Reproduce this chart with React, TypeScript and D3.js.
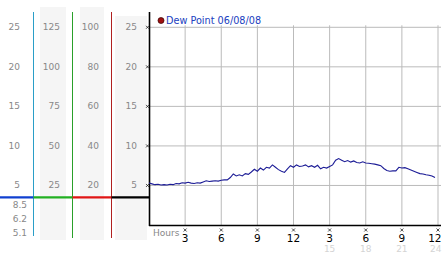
import React from "react";
import * as d3 from "d3";

const W = 442;
const H = 253;

// Dew point readings every 15 minutes (°), starting at hour 0
const dewPoint: number[] = [
  5.3, 5.2, 5.1, 5.15, 5.05, 5.1, 5.05, 5.15, 5.1, 5.25, 5.2, 5.35, 5.3, 5.4, 5.3, 5.25,
  5.35, 5.3, 5.45, 5.6, 5.5, 5.55, 5.6, 5.55, 5.65, 5.7, 5.7, 6.0, 6.45, 6.2, 6.35, 6.2,
  6.5, 6.4, 6.7, 7.05, 6.8, 7.2, 6.95, 7.3, 7.2, 7.6, 7.3, 7.0, 6.8, 6.65, 7.1, 7.5,
  7.3, 7.6, 7.4, 7.45, 7.6, 7.35, 7.5, 7.3, 7.55, 7.1, 7.3, 7.2, 7.4, 7.6, 8.2, 8.4,
  8.2, 8.0, 8.15, 7.95, 8.1, 7.9, 7.85, 8.0, 7.85, 7.8, 7.75, 7.7, 7.6, 7.5, 7.15, 6.9,
  6.8, 6.85, 6.85, 7.3, 7.2, 7.25, 7.1, 6.95, 6.8, 6.65, 6.5, 6.45, 6.35, 6.3, 6.2, 6.0,
];
const stepHours = 0.25;

const yTicks = [25, 20, 15, 10, 5];
const col1Labels = ["25", "20", "15", "10", "5"];
const col2Labels = ["125", "100", "75", "50", "25"];
const col3Labels = ["100", "80", "60", "40", "20"];
const col4Labels = ["25", "20", "15", "10", "5"];
const currentValues = ["8.5", "6.2", "5.1"];

const xTicks = [3, 6, 9, 12, 15, 18, 21, 24];
const xTickLabels = ["3", "6", "9", "12", "3", "6", "9", "12"];
const fadedTicks = [15, 18, 21, 24];
const fadedLabels = ["15", "18", "21", "24"];

const legendLabel = "Dew Point 06/08/08";

const FONT = "DejaVu Sans, Verdana, sans-serif";

function Cross({ x, y }: { x: number; y: number }) {
  return (
    <path
      d={`M${x - 1.5},${y - 1.5}L${x + 1.5},${y + 1.5}M${x + 1.5},${y - 1.5}L${x - 1.5},${y + 1.5}`}
      stroke="#222"
      strokeWidth={0.8}
      fill="none"
    />
  );
}

export default function App() {
  const x = d3.scaleLinear().domain([0, 24]).range([149, 438]);
  const y = d3.scaleLinear().domain([0, 25]).range([225, 27.3]);

  const line = d3
    .line<number>()
    .x((_, i) => x(i * stepHours))
    .y((d) => y(d));

  const markerY = y(3.5);
  const extraY = d3.scalePoint<string>().domain(currentValues).range([205, 233]);
  const lastTick = xTicks[xTicks.length - 1];

  return (
    <svg
      width={W}
      height={H}
      style={{ position: "absolute", left: 0, top: 0, background: "#fff" }}
      fontFamily={FONT}
    >
      {/* left gray bands */}
      <rect x={40} y={7} width={26} height={233} fill="#f5f5f5" />
      <rect x={80} y={7} width={24} height={233} fill="#f5f5f5" />
      <rect x={115} y={16} width={32} height={224} fill="#f5f5f5" />

      {/* colored vertical axes */}
      <line x1={33.5} x2={33.5} y1={12} y2={236} stroke="#2a9ec8" strokeWidth={1} />
      <line x1={72.5} x2={72.5} y1={12} y2={238} stroke="#2aa02a" strokeWidth={1} />
      <line x1={111.5} x2={111.5} y1={12} y2={238} stroke="#b02020" strokeWidth={1} />

      {/* left labels */}
      {yTicks.map((t, i) => (
        <g key={t} fontSize={9} fill="#888" textAnchor="end">
          <text x={20} y={y(t) + 3}>{col1Labels[i]}</text>
          <text x={60} y={y(t) + 3}>{col2Labels[i]}</text>
          <text x={99} y={y(t) + 3}>{col3Labels[i]}</text>
          <text x={137} y={y(t) + 3}>{col4Labels[i]}</text>
        </g>
      ))}
      {currentValues.map((v) => (
        <text key={v} x={27} y={(extraY(v) as number) + 3} fontSize={9} fill="#888" textAnchor="end">
          {v}
        </text>
      ))}

      {/* grid */}
      {yTicks.map((t) => (
        <line key={"h" + t} x1={149} x2={441} y1={y(t)} y2={y(t)} stroke="#bbb" strokeWidth={1} />
      ))}
      {xTicks.map((t) => (
        <line key={"v" + t} x1={x(t)} x2={x(t)} y1={y(25) - 2} y2={225} stroke="#bbb" strokeWidth={1} />
      ))}

      {/* marker line */}
      <line x1={0} x2={33.5} y1={markerY} y2={markerY} stroke="#1040d0" strokeWidth={2.3} />
      <line x1={33.5} x2={72.5} y1={markerY} y2={markerY} stroke="#22b022" strokeWidth={2.3} />
      <line x1={72.5} x2={111.5} y1={markerY} y2={markerY} stroke="#e01515" strokeWidth={2.3} />
      <line x1={111.5} x2={149} y1={markerY} y2={markerY} stroke="#000" strokeWidth={2.3} />

      {/* axes */}
      <line x1={149.5} x2={149.5} y1={12} y2={226} stroke="#000" strokeWidth={1.6} />
      <line x1={149} x2={441} y1={225.5} y2={225.5} stroke="#000" strokeWidth={1.6} />

      {yTicks.map((t) => (
        <Cross key={"yc" + t} x={147.5} y={y(t)} />
      ))}
      {xTicks.map((t) => (
        <Cross key={"xc" + t} x={x(t)} y={230} />
      ))}

      {/* x labels */}
      <text x={153} y={235.5} fontSize={9} fill="#888">Hours</text>
      {xTicks.map((t, i) => (
        <text
          key={"xl" + t}
          x={t === lastTick ? 441.5 : x(t)}
          y={242}
          fontSize={10.5}
          fill="#000"
          textAnchor={t === lastTick ? "end" : "middle"}
        >
          {xTickLabels[i]}
        </text>
      ))}
      {fadedTicks.map((t, i) => (
        <text
          key={"fl" + t}
          x={t === lastTick ? 441.5 : x(t)}
          y={252}
          fontSize={9}
          fill="#d4d4d4"
          textAnchor={t === lastTick ? "end" : "middle"}
        >
          {fadedLabels[i]}
        </text>
      ))}

      {/* data */}
      <path d={line(dewPoint) || ""} fill="none" stroke="#1c1c96" strokeWidth={1.1} />

      {/* legend */}
      <circle cx={161} cy={20.5} r={3} fill="#a01010" stroke="#300" strokeWidth={0.7} />
      <text x={166} y={24} fontSize={9.7} fill="#2040c0">{legendLabel}</text>
    </svg>
  );
}
